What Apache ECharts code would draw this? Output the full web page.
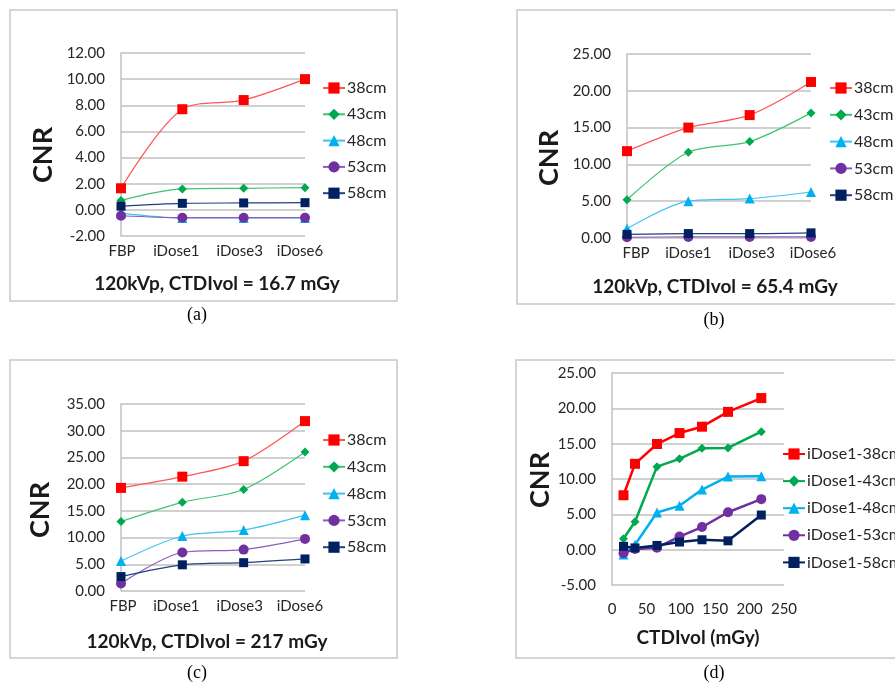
<!DOCTYPE html>
<html><head><meta charset="utf-8">
<script src="https://cdn.jsdelivr.net/npm/echarts@6/dist/echarts.min.js"></script>
<style>html,body{margin:0;padding:0;background:#fff}#c{width:895px;height:686px}</style>
</head><body><div id="c"></div>
<script>
// ---- data ----
const categories = ['FBP', 'iDose1', 'iDose3', 'iDose6'];
const sizeNames = ['38cm', '43cm', '48cm', '53cm', '58cm'];
const doseNames = ['iDose1-38cm', 'iDose1-43cm', 'iDose1-48cm', 'iDose1-53cm', 'iDose1-58cm'];

const a38 = [1.65, 7.7, 8.4, 10.0];
const a43 = [0.72, 1.6, 1.65, 1.7];
const a48 = [-0.25, -0.62, -0.62, -0.62];
const a53 = [-0.45, -0.6, -0.6, -0.6];
const a58 = [0.28, 0.5, 0.53, 0.55];

const b38 = [11.8, 15.0, 16.7, 21.2];
const b43 = [5.2, 11.65, 13.1, 17.0];
const b48 = [1.25, 5.0, 5.35, 6.25];
const b53 = [0.1, 0.15, 0.15, 0.15];
const b58 = [0.5, 0.6, 0.6, 0.7];

const c38 = [19.3, 21.4, 24.3, 31.8];
const c43 = [13.0, 16.6, 19.0, 26.0];
const c48 = [5.6, 10.3, 11.4, 14.2];
const c53 = [1.4, 7.2, 7.75, 9.75];
const c58 = [2.7, 4.9, 5.3, 6.0];

const ctdi = [16.7, 33.4, 65.4, 98.1, 130.8, 168.6, 217];
const d38 = [7.7, 12.15, 14.95, 16.5, 17.4, 19.5, 21.45];
const d43 = [1.55, 3.95, 11.75, 12.85, 14.35, 14.4, 16.7];
const d48 = [-0.7, 0.7, 5.25, 6.2, 8.5, 10.35, 10.4];
const d53 = [-0.5, 0.1, 0.28, 1.85, 3.2, 5.3, 7.15];
const d58 = [0.47, 0.25, 0.6, 1.08, 1.4, 1.25, 4.9];

const panelTitles = ['120kVp, CTDIvol = 16.7 mGy', '120kVp, CTDIvol = 65.4 mGy', '120kVp, CTDIvol = 217 mGy', 'CTDIvol (mGy)'];
const captions = ['(a)', '(b)', '(c)', '(d)'];
const yLabel = 'CNR';

// ---- styles ----
const markerColors = ['#FF0000', '#00A84F', '#00B0F0', '#7030A0', '#002060'];
const thinLineColors = ['#FF5555', '#3CC46E', '#3EC2F2', '#8C5CBC', '#22407F'];
const symbols = ['rect', 'diamond', 'triangle', 'circle', 'rect'];
const symSizes = [10, 9, 10, 10, 9];
const FONT = 'Lato';
const txt = '#262626';
const gridColor = '#C0C0C0';

const grids = [
  {left: 121, top: 53, width: 184, height: 183},
  {left: 627, top: 54, width: 184, height: 184},
  {left: 121, top: 404, width: 184, height: 187},
  {left: 612, top: 373, width: 172, height: 212}
];
const yRanges = [[-2, 12, 2], [0, 25, 5], [0, 35, 5], [-5, 25, 5]];
// per-panel category label padding (left/right) to mimic offsets
const catPads = [
  [[0, 0, 0, 2], [0, 12, 0, 0], [0, 8, 0, 0], [0, 10, 0, 0]],
  [[0, 0, 0, 18], [0, 0, 0, 0], [0, 0, 0, 4], [0, 0, 0, 4]],
  [[0, 0, 0, 4], [0, 12, 0, 0], [0, 8, 0, 0], [0, 10, 0, 0]]
];

const xAxes = [0, 1, 2].map(i => {
  const rich = {};
  categories.forEach((c, j) => { rich['c' + j] = {padding: catPads[i][j], fontFamily: FONT, fontSize: 15, color: txt}; });
  return {
    type: 'category', gridIndex: i, data: categories, boundaryGap: false,
    axisLine: {show: false, onZero: false}, axisTick: {show: false},
    axisLabel: {color: txt, fontFamily: FONT, fontSize: 15, margin: 8, interval: 0,
      formatter: (v, idx) => '{c' + idx + '|' + v + '}', rich: rich}
  };
});
xAxes.push({
  type: 'value', gridIndex: 3, min: 0, max: 250, interval: 50,
  axisLine: {show: false, onZero: false}, axisTick: {show: false}, splitLine: {show: false},
  axisLabel: {color: txt, fontFamily: FONT, fontSize: 15, margin: 17}
});
const yAxes = yRanges.map((r, i) => ({
  type: 'value', gridIndex: i, min: r[0], max: r[1], interval: r[2],
  axisLine: {show: true, lineStyle: {color: gridColor, width: 1.5}},
  axisTick: {show: false},
  splitLine: {lineStyle: {color: gridColor, width: 1.5}},
  axisLabel: {color: txt, fontFamily: FONT, fontSize: 15, margin: 16, formatter: v => v.toFixed(2)}
}));

const series = [];
const panelData = [[a38, a43, a48, a53, a58], [b38, b43, b48, b53, b58], [c38, c43, c48, c53, c58]];
panelData.forEach((arrs, p) => {
  arrs.forEach((vals, k) => {
    series.push({
      type: 'line', name: sizeNames[k], xAxisIndex: p, yAxisIndex: p, data: vals,
      smooth: 0.3, symbol: symbols[k], symbolSize: symSizes[k],
      itemStyle: {color: markerColors[k]},
      lineStyle: {color: thinLineColors[k], width: 1.2},
      emphasis: {disabled: true}
    });
  });
});
[d38, d43, d48, d53, d58].forEach((vals, k) => {
  series.push({
    type: 'line', name: doseNames[k], xAxisIndex: 3, yAxisIndex: 3,
    data: ctdi.map((x, i) => [x, vals[i]]),
    symbol: symbols[k], symbolSize: symSizes[k],
    itemStyle: {color: markerColors[k]},
    lineStyle: {color: markerColors[k], width: 2.5},
    emphasis: {disabled: true}
  });
});

const legendBase = {
  orient: 'vertical', itemWidth: 22, itemHeight: 14, itemGap: 10.8, padding: 0,
  textStyle: {color: txt, fontFamily: FONT, fontSize: 16, padding: [0, 0, 0, -3]},
  selectedMode: false
};
const legends = [
  Object.assign({}, legendBase, {left: 322, top: 80, itemGap: 10.3, data: sizeNames}),
  Object.assign({}, legendBase, {left: 829, top: 80, data: sizeNames}),
  Object.assign({}, legendBase, {left: 322, top: 432, data: sizeNames}),
  Object.assign({}, legendBase, {left: 782, top: 446, itemGap: 11.1, data: doseNames})
];

const frames = [[10, 10, 387, 291], [517, 10, 400, 294], [10, 360, 387, 298], [516, 360, 400, 298]];
const titlePos = [[217, 284], [715, 287], [207, 642], [698, 638]];
const cnrPos = [[43, 155], [549, 158], [40, 510], [540, 480]];
const capPos = [[197, 315], [714, 320], [197, 673], [714, 673]];

const graphic = [];
frames.forEach(f => graphic.push({type: 'rect', shape: {x: f[0], y: f[1], width: f[2], height: f[3]},
  style: {fill: 'none', stroke: '#C8C8C8', lineWidth: 1.5}, silent: true, z: -10}));
titlePos.forEach((p, i) => graphic.push({type: 'text', x: p[0], y: p[1],
  style: {text: panelTitles[i], fontFamily: FONT, fontWeight: 'bold', fontSize: 19, fill: '#1a1a1a', align: 'center', verticalAlign: 'middle'}}));
cnrPos.forEach(p => graphic.push({type: 'text', x: p[0], y: p[1], rotation: Math.PI / 2,
  style: {text: yLabel, fontFamily: FONT, fontWeight: 'bold', fontSize: 27, fill: '#1a1a1a', align: 'center', verticalAlign: 'middle'}}));
capPos.forEach((p, i) => graphic.push({type: 'text', x: p[0], y: p[1],
  style: {text: captions[i], fontFamily: 'Liberation Serif', fontSize: 18, fill: '#000', align: 'center', verticalAlign: 'middle'}}));

const chart = echarts.init(document.getElementById('c'), null, {renderer: 'canvas'});
chart.setOption({
  animation: false,
  backgroundColor: '#fff',
  grid: grids,
  xAxis: xAxes,
  yAxis: yAxes,
  legend: legends,
  series: series,
  graphic: graphic
});
</script></body></html>
